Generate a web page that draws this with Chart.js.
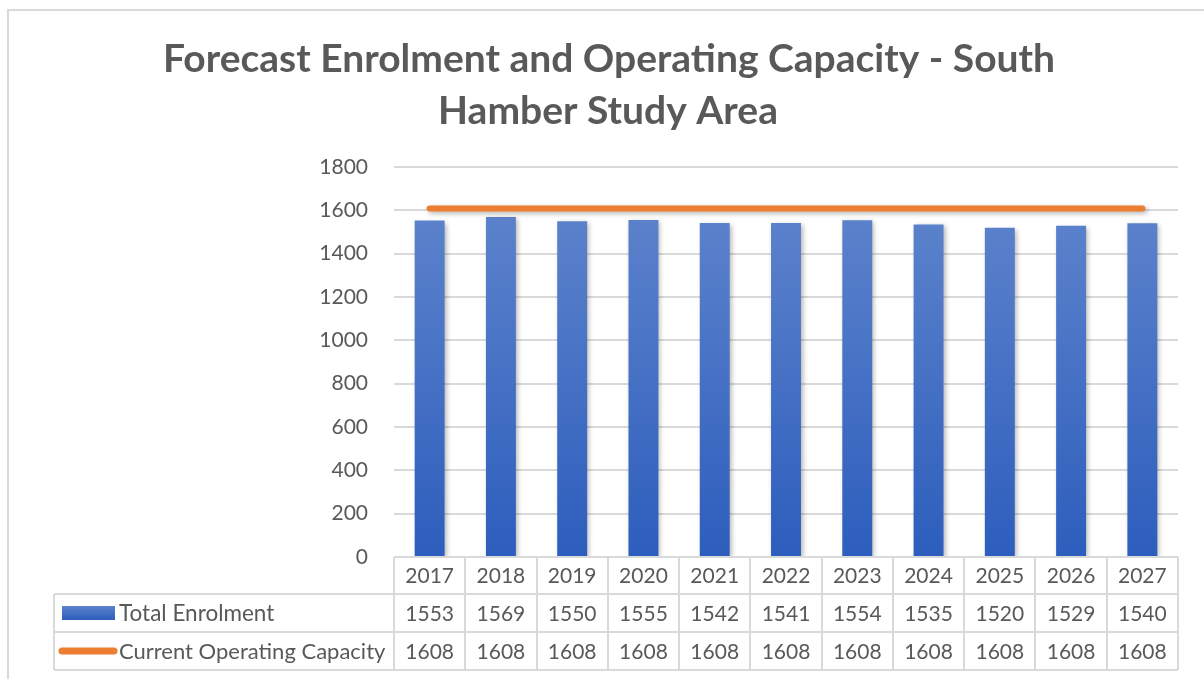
<!DOCTYPE html>
<html>
<head>
<meta charset="utf-8">
<title>Forecast Enrolment and Operating Capacity</title>
<script src="https://cdn.jsdelivr.net/npm/chart.js@4"></script>
<style>
    html, body { margin: 0; padding: 0; background: #ffffff; }
    #caja { position: relative; width: 1204px; height: 679px; }
</style>
</head>
<body>
<div id="caja"><canvas id="grafico"></canvas></div>
<script>
// Datos del gráfico
const anios = ['2017', '2018', '2019', '2020', '2021', '2022', '2023', '2024', '2025', '2026', '2027'];
const totalEnrolment = [1553, 1569, 1550, 1555, 1542, 1541, 1554, 1535, 1520, 1529, 1540];
const capacidadActual = [1608, 1608, 1608, 1608, 1608, 1608, 1608, 1608, 1608, 1608, 1608];
const ticksY = [0, 200, 400, 600, 800, 1000, 1200, 1400, 1600, 1800];
const titulo = ['Forecast Enrolment and Operating Capacity - South', 'Hamber Study Area'];
const nombresSeries = ['Total Enrolment', 'Current Operating Capacity'];

const GRIS_TEXTO = '#595959';
const GRIS_LINEA = '#d9d9d9';
const NARANJA = '#ed7d31';
const FUENTE = 'Lato, "Open Sans", sans-serif';

// Gradiente de las barras
function gradienteBarras(context) {
    const area = context.chart.chartArea;
    if (!area) return '#4472c4';
    const g = context.chart.ctx.createLinearGradient(0, area.top + 45, 0, area.bottom);
    g.addColorStop(0, '#5c82cb');
    g.addColorStop(1, '#2d5ebd');
    return g;
}

// Sombra suave para barras y línea
const pluginSombra = {
    id: 'sombra',
    beforeDatasetDraw(chart, args) {
        const ctx = chart.ctx;
        ctx.save();
        ctx.shadowColor = 'rgba(0, 0, 0, 0.30)';
        ctx.shadowBlur = 5;
        ctx.shadowOffsetX = 2;
        ctx.shadowOffsetY = 2;
    },
    afterDatasetDraw(chart) {
        chart.ctx.restore();
    }
};

// Título, marco y tabla de datos
const pluginTabla = {
    id: 'tabla',
    beforeDraw(chart) {
        const ctx = chart.ctx;
        ctx.save();
        ctx.fillStyle = '#ffffff';
        ctx.fillRect(0, 0, chart.width, chart.height);
        // marco exterior
        ctx.strokeStyle = GRIS_LINEA;
        ctx.lineWidth = 2;
        ctx.beginPath();
        ctx.moveTo(8, chart.height);
        ctx.lineTo(8, 10);
        ctx.lineTo(chart.width, 10);
        ctx.stroke();
        ctx.restore();
    },
    afterDraw(chart) {
        const ctx = chart.ctx;
        const x = chart.scales.x;
        const area = chart.chartArea;
        const filas = [area.bottom, 594, 632, 670];
        const izqTabla = 54;
        const paso = (area.right - area.left) / anios.length;

        ctx.save();
        // título
        ctx.fillStyle = GRIS_TEXTO;
        ctx.font = 'bold 39px ' + FUENTE;
        ctx.textAlign = 'center';
        ctx.textBaseline = 'middle';
        ctx.fillText(titulo[0], 609, 59);
        ctx.fillText(titulo[1], 608, 111);

        // líneas de la tabla
        ctx.strokeStyle = GRIS_LINEA;
        ctx.lineWidth = 2;
        ctx.beginPath();
        ctx.moveTo(area.left, filas[0]);
        ctx.lineTo(area.right, filas[0]);
        for (let r = 1; r < filas.length; r++) {
            ctx.moveTo(izqTabla, filas[r]);
            ctx.lineTo(area.right, filas[r]);
        }
        ctx.moveTo(izqTabla, filas[1]);
        ctx.lineTo(izqTabla, filas[3]);
        for (let i = 0; i <= anios.length; i++) {
            const cx = Math.round(area.left + i * paso);
            ctx.moveTo(cx, filas[0]);
            ctx.lineTo(cx, filas[3]);
        }
        ctx.stroke();

        // textos de la tabla
        ctx.fillStyle = GRIS_TEXTO;
        ctx.font = '21px ' + FUENTE;
        ctx.textAlign = 'center';
        ctx.textBaseline = 'middle';
        const filasTexto = [anios, totalEnrolment, capacidadActual];
        filasTexto.forEach((fila, r) => {
            const cy = (filas[r] + filas[r + 1]) / 2 + 1;
            fila.forEach((v, i) => {
                ctx.fillText(String(v), x.getPixelForValue(i), cy);
            });
        });

        // leyenda dentro de la tabla
        const y1 = (filas[1] + filas[2]) / 2;
        const y2 = (filas[2] + filas[3]) / 2;
        const g = ctx.createLinearGradient(0, y1 - 7, 0, y1 + 7);
        g.addColorStop(0, '#5c82cb');
        g.addColorStop(1, '#2d5ebd');
        ctx.fillStyle = g;
        ctx.fillRect(62, y1 - 7, 53, 14);
        ctx.strokeStyle = NARANJA;
        ctx.lineWidth = 7;
        ctx.lineCap = 'round';
        ctx.beginPath();
        ctx.moveTo(62, y2);
        ctx.lineTo(114, y2);
        ctx.stroke();
        ctx.fillStyle = GRIS_TEXTO;
        ctx.font = '22.5px ' + FUENTE;
        ctx.textAlign = 'left';
        ctx.fillText(nombresSeries[0], 119, y1 + 1);
        ctx.font = '22px ' + FUENTE;
        ctx.fillText(nombresSeries[1], 119, y2 + 1);
        ctx.restore();
    }
};

new Chart(document.getElementById('grafico'), {
    type: 'bar',
    data: {
        labels: anios,
        datasets: [
            {
                type: 'line',
                label: nombresSeries[1],
                data: capacidadActual,
                borderColor: NARANJA,
                backgroundColor: NARANJA,
                borderWidth: 6,
                borderCapStyle: 'round',
                pointRadius: 0,
                order: 0
            },
            {
                label: nombresSeries[0],
                data: totalEnrolment,
                backgroundColor: gradienteBarras,
                barPercentage: 0.42,
                categoryPercentage: 1,
                order: 1
            }
        ]
    },
    options: {
        responsive: true,
        maintainAspectRatio: false,
        animation: false,
        layout: {
            padding: { left: 0, right: 26, top: 167, bottom: 122 }
        },
        plugins: {
            legend: { display: false },
            title: { display: false },
            tooltip: { enabled: false }
        },
        scales: {
            x: {
                display: false
            },
            y: {
                min: 0,
                max: 1800,
                afterFit(scale) { scale.width = 394; },
                afterBuildTicks(scale) { scale.ticks = ticksY.map(v => ({ value: v })); },
                border: { display: false },
                grid: { color: GRIS_LINEA, lineWidth: 2, drawTicks: false },
                ticks: {
                    color: GRIS_TEXTO,
                    font: { family: FUENTE, size: 21 },
                    padding: 26,
                    callback: v => String(v)
                }
            }
        }
    },
    plugins: [pluginSombra, pluginTabla]
});
</script>
</body>
</html>
